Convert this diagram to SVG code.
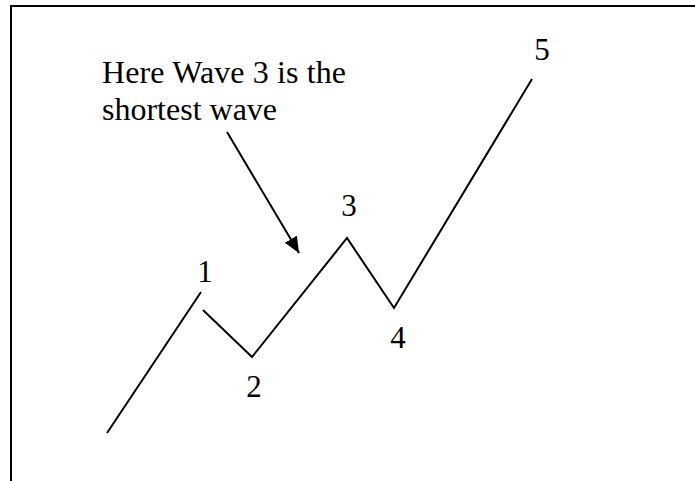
<svg xmlns="http://www.w3.org/2000/svg" width="695" height="481" viewBox="0 0 695 481">
<style>
.t{font-family:"Liberation Serif","Times New Roman",serif;font-size:31px;fill:#000}
.n{font-size:32px}
.l{fill:none;stroke:#000;stroke-width:2;stroke-linecap:butt;stroke-linejoin:miter}
</style>
<defs>
<marker id="ah" markerUnits="userSpaceOnUse" markerWidth="20" markerHeight="20" refX="16" refY="7" orient="auto">
<path d="M0,0 L16,7 L0,14 Z" fill="#000"/>
</marker>
</defs>
<rect width="695" height="481" fill="#fff"/>
<path d="M11,481 L11,6 L695,6" fill="none" stroke="#000" stroke-width="2"/>
<g id="connectors">
<line class="l" x1="107" y1="433" x2="201" y2="292"/>
<polyline class="l" points="203,310 252,357 347,238 394,308 532,79"/>
<line class="l" x1="227" y1="132" x2="299" y2="253" marker-end="url(#ah)"/>
</g>
<g id="note">
<text class="t n" x="102" y="83" textLength="244" lengthAdjust="spacing">Here Wave 3 is the</text>
<text class="t n" x="102" y="120">shortest wave</text>
</g>
<g id="label1"><text class="t" x="205" y="282" text-anchor="middle">1</text></g>
<g id="label2"><text class="t" x="254" y="397" text-anchor="middle">2</text></g>
<g id="label3"><text class="t" x="349" y="216" text-anchor="middle">3</text></g>
<g id="label4"><text class="t" x="398" y="348" text-anchor="middle">4</text></g>
<g id="label5"><text class="t" x="542" y="60" text-anchor="middle">5</text></g>
</svg>
